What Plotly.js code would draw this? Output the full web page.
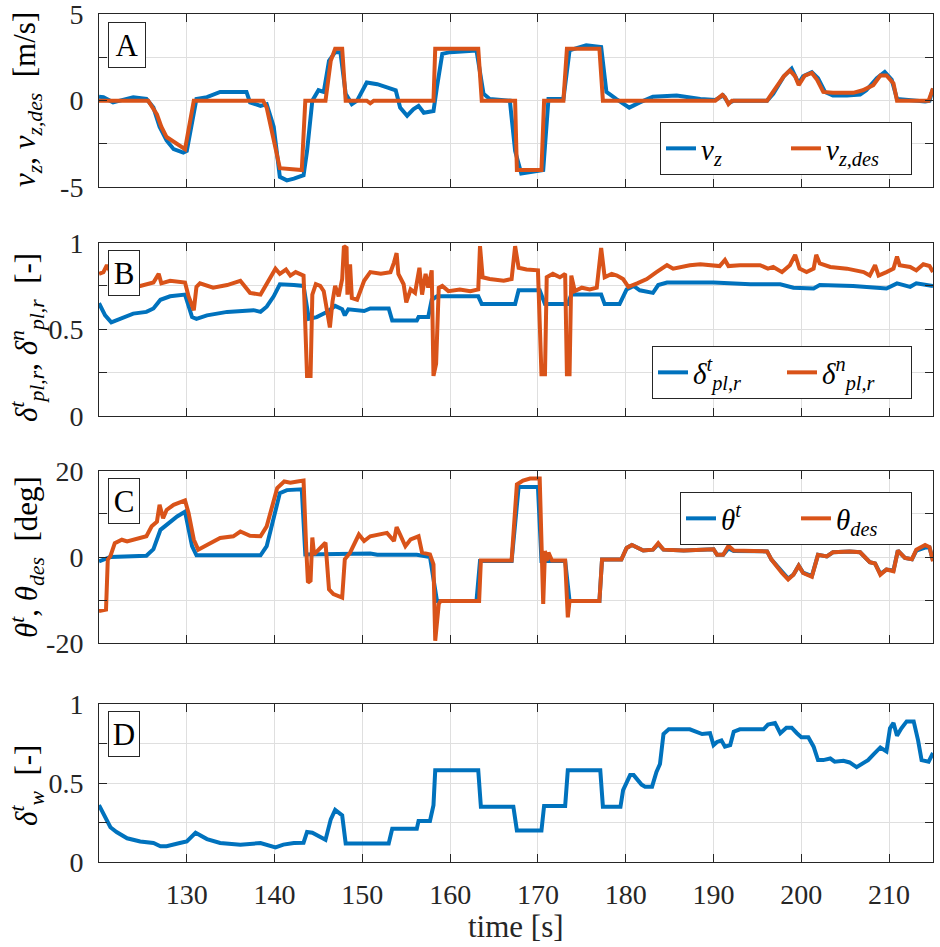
<!DOCTYPE html>
<html>
<head>
<meta charset="utf-8">
<script src="https://cdn.plot.ly/plotly-3.0.1.min.js"></script>
<style>html,body{margin:0;padding:0;background:#fff;}#plot{width:940px;height:947px;}
svg text, svg tspan { font-family: 'Liberation Serif', 'DejaVu Serif', serif !important; }</style>
</head>
<body>
<div id="plot"></div>
<script>
// ---------------- DATA ----------------
const xTickVals = [130, 140, 150, 160, 170, 180, 190, 200, 210];
const xTickText = ['130', '140', '150', '160', '170', '180', '190', '200', '210'];

// Panel A: v_z (measured) and v_z,des
const tVz = [120,120.5,121.6,122.4,123.9,125.4,126.2,126.9,127.7,128.5,129.6,130,130.6,131.1,132.3,133.8,135.3,136.8,137.2,138.4,139.1,139.9,140.6,141.4,142.2,143.3,143.7,144.3,145,145.6,146.2,146.9,147.5,148.1,148.8,149.4,150.5,151.7,152.8,153.8,154.3,155.1,155.8,156.4,157,158.1,158.5,159.1,160,163,163.8,164.5,166.8,167.4,168.1,170.6,171.2,172.9,173.6,175.5,177.2,177.8,178.9,180.4,181.6,183.1,185.8,188.5,190.2,191.1,191.7,192.3,196.1,196.8,198,198.9,199.7,200.2,201.2,201.9,202.7,203.6,205.2,206.7,207.4,208.6,209.5,210.3,210.9,212.8,214.1,214.6,215];
const vz  = [0.23,0.2,-0.1,0,0.2,0.1,-0.4,-1.5,-2.3,-2.8,-3.0,-2.9,-1.2,0.1,0.2,0.5,0.5,0.5,-0.1,-0.3,-0.2,-1.5,-4.4,-4.6,-4.5,-4.3,-2.9,0,0.6,0.5,2.3,2.8,2.8,0.4,-0.2,0,1.05,0.95,0.77,0.6,-0.4,-0.87,-0.5,-0.3,-0.7,-0.6,0.8,2.7,2.8,2.9,0.4,0.1,0,-2.9,-4.2,-4.0,0.1,0.1,2.9,3.2,3.1,0.5,0.1,-0.4,-0.1,0.23,0.3,0.1,0.04,0.3,-0.15,0,0,0.4,1.4,1.85,1.0,1.4,1.65,1.3,0.5,0.3,0.3,0.35,0.6,1.3,1.65,1.2,0.1,0,-0.05,0,0.7];

const tVzDes = [120,125.6,126.6,127.1,127.7,128.9,129.8,130.8,138.7,139.1,140.6,143.1,143.5,145.8,146.4,146.9,147.7,148.1,150.5,150.9,151.3,158.1,158.3,163.2,163.6,167.4,167.6,170.4,170.7,172.9,173.3,177,177.4,190.2,191,191.3,191.7,192.1,196.1,196.5,197.2,198,198.7,199.3,199.7,200.4,201.2,201.8,202.5,203.6,205.9,207,208.2,209,209.7,210.5,210.9,214.5,215];
const vzDes  = [0,0,-0.8,-1.5,-2.1,-2.5,-2.8,0,0,-0.4,-3.9,-4.0,0,0,2.3,3.0,3.0,0,0,-0.15,0,0,3.0,3.0,0,0,-4.0,-4.0,0,0,3.0,3.0,0,0,0.33,0.2,-0.2,0,0,0.3,0.8,1.4,1.75,1.4,0.9,1.45,1.6,1.2,0.5,0.45,0.45,0.6,0.9,1.45,1.45,1.0,0,0,0.7];

// Panel B: delta^t_pl,r and delta^n_pl,r
const tDt = [120,120.7,121.4,122.4,123.9,125.4,126.2,127,128.1,129.8,130.6,131.1,132.3,134.6,137.6,138.4,139.1,139.9,140.6,142.2,143.3,143.9,144.8,146,146.9,147.7,148,148.4,150.2,150.9,153,153.4,156.2,156.4,157.5,157.9,158.5,163.2,163.6,167.4,167.8,170.2,170.8,173.4,173.8,177.2,177.6,179.3,180.1,180.9,181.6,183.1,183.7,184.7,190,194.2,197.6,199.1,201.4,202.1,205.9,208.6,209.7,210.9,212.4,213.1,215];
const deltaT = [0.65,0.58,0.54,0.56,0.59,0.60,0.62,0.67,0.69,0.70,0.57,0.56,0.58,0.60,0.61,0.60,0.63,0.69,0.76,0.755,0.75,0.56,0.57,0.60,0.635,0.615,0.58,0.615,0.605,0.62,0.62,0.55,0.55,0.57,0.57,0.67,0.69,0.69,0.645,0.645,0.725,0.725,0.645,0.645,0.70,0.70,0.645,0.645,0.73,0.75,0.725,0.71,0.755,0.77,0.77,0.76,0.76,0.74,0.735,0.755,0.75,0.74,0.735,0.765,0.745,0.765,0.75];

const tDn = [120,120.5,120.9,121.3,121.6,123.2,124.7,126.2,126.8,127.1,128.1,129.8,130.2,130.8,131.1,131.5,133,134.6,136.1,137.2,138.4,139.1,140.1,140.6,141.3,141.8,142.4,143.3,143.5,143.7,144.1,144.3,144.7,145.2,145.6,146,146.3,146.6,146.9,147.3,147.7,147.9,148.2,148.3,148.6,148.8,149.4,150.2,150.9,152.1,153.2,153.6,153.9,154.1,154.7,155,155.5,156,156.5,156.8,157.2,157.5,157.9,158.1,158.4,158.7,159.1,159.8,161.1,162.3,163.2,163.4,163.7,164.5,166.1,167,167.4,167.8,168.7,170,170.4,170.8,171,171.7,172.5,173.1,173.3,173.6,173.8,174.2,175,175.9,176.7,177.2,177.6,178.4,179,179.7,180.3,181.3,182.4,183.5,184.7,185.4,186.2,187.3,188.5,190.7,191.3,191.7,193,195.3,196.2,196.8,197.8,198.7,199.3,199.8,200.6,201.4,201.7,202.1,203.3,205.2,207.1,207.8,208.4,208.8,209.7,210.5,210.9,211.2,212.4,213.1,213.9,214.6,215];
const deltaN = [0.82,0.83,0.87,0.83,0.77,0.74,0.75,0.77,0.82,0.765,0.78,0.77,0.69,0.61,0.745,0.765,0.74,0.755,0.78,0.71,0.70,0.765,0.85,0.82,0.845,0.81,0.83,0.81,0.44,0.23,0.23,0.70,0.76,0.75,0.72,0.585,0.51,0.66,0.75,0.69,0.79,0.98,0.97,0.70,0.875,0.68,0.67,0.78,0.83,0.82,0.83,0.885,0.94,0.82,0.76,0.655,0.73,0.71,0.855,0.70,0.82,0.74,0.84,0.23,0.30,0.74,0.75,0.72,0.73,0.72,0.73,0.98,0.80,0.79,0.78,0.79,0.98,0.855,0.845,0.84,0.24,0.24,0.80,0.82,0.80,0.82,0.24,0.24,0.81,0.72,0.74,0.73,0.74,0.97,0.80,0.82,0.81,0.79,0.745,0.765,0.79,0.83,0.87,0.85,0.86,0.87,0.875,0.865,0.90,0.865,0.87,0.87,0.85,0.86,0.83,0.87,0.93,0.85,0.83,0.85,0.93,0.88,0.86,0.85,0.83,0.81,0.87,0.81,0.83,0.85,0.92,0.87,0.86,0.84,0.875,0.865,0.83];

// Panel C: theta^t and theta_des
const tTheta = [120,120.5,121.3,125.4,126.2,127,127.7,128.9,129.8,130.6,131.1,138.4,139.1,139.9,140.6,141.4,143.1,143.5,148.6,150.9,151.7,156.2,157.7,158.5,163,163.4,167,167.8,170,170.4,173.1,173.6,177,177.3,179.5,180.1,180.7,182,183.1,183.7,184.3,186.6,190,190.4,191.1,191.7,192.3,196.1,196.6,197.8,198.5,199.1,199.7,200.2,201.2,201.9,202.9,203.6,205.5,206.7,207.8,208.4,209,209.7,210.5,211,211.8,212.6,213.1,214.1,214.6,215];
const thetaT = [-1.0,-0.6,0,0.3,1.8,6.3,7.5,9.4,10.5,2.5,0.4,0.4,2.5,9.4,14.8,15.5,15.7,0.6,0.6,0.8,0.5,0.5,0,-10.2,-10.2,-0.9,-0.9,16.2,16.2,-0.9,-0.9,-10.2,-10.2,-0.6,-0.6,2.1,2.8,1.5,1.7,3.0,1.7,1.5,1.8,0.5,0.5,2.0,1.4,1.3,-0.6,-3.5,-5.0,-4.1,-2.0,-3.6,-4.4,0.5,0.15,1.1,1.3,1.1,-1.2,-1.5,-3.9,-2.9,-3.1,1.5,-0.2,-0.5,1.5,2.2,2.2,-0.8];

const tThetaDes = [120,120.8,121,121.3,121.8,122.6,123.2,124.7,125.4,126,126.6,126.9,127.3,127.7,128.5,129.8,130.2,130.8,131.3,132.3,133.8,135.3,136.1,137.2,138.4,139.1,139.9,140.3,141.1,141.8,142.6,143.3,143.6,143.8,144.1,144.3,144.5,145,145.6,145.8,146.2,146.7,147.7,148,148.6,149.6,150.2,150.9,151.7,152.8,153.6,153.9,154.3,154.9,155.5,156.4,156.8,157.7,158.1,158.3,158.7,158.9,163.3,163.5,167,167.6,168.3,169.1,170.2,170.4,170.6,170.8,171,171.2,171.6,173.1,173.4,173.6,177,177.3,179.5,180.1,180.7,182,183.1,183.7,184.3,186.6,190,190.4,191.1,191.7,192.3,196.1,196.6,197.8,198.5,199.1,199.7,200.2,201.2,201.9,202.9,203.6,205.5,206.7,207.8,208.4,209,209.7,210.5,211,211.8,212.6,213.1,214.1,214.6,215];
const thetaDes = [-12.5,-12.2,-0.6,0.2,3.2,4.0,3.6,4.4,4.8,7.1,8.2,12.1,9.0,10.9,12.1,13.1,10.2,4.0,1.7,2.8,4.4,4.8,5.9,4.9,4.8,7.1,12.9,16,17.5,17.2,17.5,17.7,2.2,-5.9,-5.5,4.5,0.6,1.8,2.9,3.3,-7.5,-8.6,-9.4,-0.5,1,5.2,3.7,4.8,5.2,5.6,3.7,6.9,5.2,2.5,4.1,4.8,1,0.6,-1.7,-19.4,-10.9,-10.2,-10.2,-0.8,-0.8,16.8,17.7,18.2,18.2,-1.7,-10.9,1.4,-0.9,1,-0.8,-0.8,-14,-10.2,-10.2,-0.6,-0.6,2.1,2.8,1.5,1.7,3.2,1.7,1.5,1.8,0.5,0.5,2.6,1.5,1.3,-0.6,-3.7,-5.2,-4.1,-2,-3.7,-4.6,0.5,0.15,1.1,1.3,1.1,-1.2,-1.5,-4.1,-2.9,-3.3,1.5,-0.2,-0.5,1.7,2.8,2.3,-1];

// Panel D: delta^t_w
const tDw = [120,120.5,121.3,122,123.2,124.7,126.2,127,127.7,129.2,130,131,132.3,133.8,136.1,138.4,139.1,140.1,141,142.2,143.3,143.7,144.3,145,145.8,146.4,146.9,147.7,148.1,153,153.4,156.2,156.4,157.7,158.1,158.3,163.2,163.5,167.2,167.6,170.4,170.7,173.1,173.4,177.1,177.4,179.4,179.7,180.5,180.9,181.8,182.2,183,183.5,183.9,184.3,184.9,187.3,188.1,188.7,189.6,190,190.4,190.9,191.3,191.9,192.3,193,195.7,196.2,197,197.6,198.3,198.9,199.5,200,200.8,201.4,201.9,202.5,203.3,203.8,204.8,205.5,206.3,207.1,207.6,208.2,209,209.7,210.1,210.5,210.9,211.4,212,212.8,213.3,213.7,214.5,215];
const deltaW = [0.36,0.31,0.22,0.19,0.15,0.13,0.12,0.10,0.10,0.12,0.13,0.185,0.145,0.12,0.11,0.12,0.11,0.093,0.11,0.12,0.122,0.19,0.185,0.163,0.14,0.27,0.33,0.295,0.117,0.117,0.21,0.21,0.26,0.26,0.36,0.58,0.58,0.35,0.35,0.20,0.20,0.355,0.355,0.58,0.58,0.35,0.35,0.455,0.55,0.55,0.49,0.477,0.477,0.57,0.62,0.81,0.84,0.84,0.82,0.81,0.815,0.74,0.76,0.77,0.73,0.74,0.825,0.84,0.84,0.87,0.88,0.815,0.85,0.85,0.815,0.79,0.79,0.73,0.645,0.645,0.655,0.635,0.64,0.63,0.60,0.625,0.645,0.68,0.725,0.70,0.846,0.88,0.80,0.846,0.89,0.89,0.77,0.645,0.635,0.69];

// y-axis tick labels (major) and grid-only levels (minor)
const yTicksA = [-5, 0, 5], yMinorA = [-2.5, 2.5];
const yTicksB = [0, 0.5, 1], yMinorB = [0.25, 0.75];
const yTicksC = [-20, 0, 20], yMinorC = [-10, 10];
const yTicksD = [0, 0.5, 1], yMinorD = [0.25, 0.75];

// ---------------- STYLE ----------------
const BLUE = '#0072BD', ORANGE = '#D95319';
const AX = '#262626', GRID = '#dfdfdf';
const FONT = 'Liberation Serif';
const W = 940, H = 947;
const px = v => v / W;
const py = v => 1 - v / H;

const xDom = [px(99), px(933)];
const yDoms = {
  A: [py(187.3), py(14)],
  B: [py(415.7), py(242.7)],
  C: [py(643.3), py(470.7)],
  D: [py(862), py(704)]
};

function line(x, y, color, name, xa, ya, legend, show) {
  return { x: x, y: y, type: 'scatter', mode: 'lines', name: name,
    line: { color: color, width: 4 }, xaxis: xa, yaxis: ya,
    legend: legend, showlegend: show, hoverinfo: 'skip' };
}

const data = [
  line(tVz, vz, BLUE, '<i>v</i><sub><i>z</i></sub>', 'x', 'y', 'legend', true),
  line(tVzDes, vzDes, ORANGE, '<i>v</i><sub><i>z,des</i></sub>', 'x', 'y', 'legend', true),
  line(tDt, deltaT, BLUE, '<i>δ</i><sup><i>t</i></sup><sub><i>pl,r</i></sub>', 'x2', 'y2', 'legend2', true),
  line(tDn, deltaN, ORANGE, '<i>δ</i><sup><i>n</i></sup><sub><i>pl,r</i></sub>', 'x2', 'y2', 'legend2', true),
  line(tTheta, thetaT, BLUE, '<i>θ</i><sup><i>t</i></sup>', 'x3', 'y3', 'legend3', true),
  line(tThetaDes, thetaDes, ORANGE, '<i>θ</i><sub><i>des</i></sub>', 'x3', 'y3', 'legend3', true),
  line(tDw, deltaW, BLUE, '<i>δ</i><sup><i>t</i></sup><sub><i>w</i></sub>', 'x4', 'y4', 'legend', false)
];

function xaxis(anchor, labels) {
  return { domain: xDom, range: [120, 215], anchor: anchor,
    tickmode: 'array', tickvals: xTickVals, ticktext: xTickText,
    showticklabels: labels, ticks: 'inside', ticklen: 8, tickcolor: AX, tickwidth: 1,
    showline: true, mirror: 'ticks', linecolor: AX, linewidth: 1,
    showgrid: true, gridcolor: GRID, gridwidth: 1, zeroline: false,
    ticklabeloverflow: 'allow',
    tickfont: { family: FONT, size: 28, color: AX }, ticklabelstandoff: 7 };
}
function yaxis(anchor, dom, range, vals, minorVals) {
  return { domain: dom, range: range, anchor: anchor,
    tickmode: 'array', tickvals: vals, ticktext: vals.map(String),
    ticks: 'inside', ticklen: 8, tickcolor: AX, tickwidth: 1,
    minor: { tickmode: 'array', tickvals: minorVals, ticks: 'inside', ticklen: 8,
      tickcolor: AX, tickwidth: 1, showgrid: true, gridcolor: GRID, gridwidth: 1 },
    showline: true, mirror: 'ticks', linecolor: AX, linewidth: 1,
    showgrid: true, gridcolor: GRID, gridwidth: 1, zeroline: false,
    ticklabeloverflow: 'allow',
    tickfont: { family: FONT, size: 28, color: AX }, ticklabelstandoff: 9 };
}

function legendBox(rightPx, topPx, ew) {
  return { x: px(rightPx), y: py(topPx), xanchor: 'right', yanchor: 'top',
    orientation: 'h', bgcolor: '#ffffff', bordercolor: AX, borderwidth: 1,
    font: { family: FONT, size: 29, color: '#000' }, itemwidth: 30,
    entrywidth: ew, entrywidthmode: 'pixels', tracegroupgap: 0 };
}

function panelLabel(letter, topPx, w) {
  return { text: letter, x: px(108), y: py(topPx), xref: 'paper', yref: 'paper',
    xanchor: 'left', yanchor: 'top', showarrow: false,
    font: { family: FONT, size: 31, color: '#000' },
    bgcolor: '#ffffff', bordercolor: AX, borderwidth: 1, borderpad: 3,
    width: w, height: 38 };
}
function yTitle(text, centerPx) {
  return { text: text, x: px(27), y: py(centerPx), xref: 'paper', yref: 'paper',
    xanchor: 'center', yanchor: 'middle', textangle: -90, showarrow: false,
    font: { family: FONT, size: 31, color: '#000' } };
}

const layout = {
  width: W, height: H,
  margin: { l: 0, r: 0, t: 0, b: 0 },
  paper_bgcolor: '#ffffff', plot_bgcolor: '#ffffff',
  font: { family: FONT, size: 28, color: AX },
  showlegend: true,
  xaxis: xaxis('y', false),
  xaxis2: xaxis('y2', false),
  xaxis3: xaxis('y3', false),
  xaxis4: xaxis('y4', true),
  yaxis: yaxis('x', yDoms.A, [-5, 5], yTicksA, yMinorA),
  yaxis2: yaxis('x2', yDoms.B, [0, 1], yTicksB, yMinorB),
  yaxis3: yaxis('x3', yDoms.C, [-20, 20], yTicksC, yMinorC),
  yaxis4: yaxis('x4', yDoms.D, [0, 1], yTicksD, yMinorD),
  legend: legendBox(912, 122, 80),
  legend2: legendBox(912, 346, 84),
  legend3: legendBox(912, 492, 70),
  annotations: [
    panelLabel('A', 22, 30),
    panelLabel('B', 250, 24),
    panelLabel('C', 478, 24),
    panelLabel('D', 711, 24),
    yTitle('<i>v</i><sub><i>z</i></sub>, <i>v</i><sub><i>z,des</i></sub>  [m/s]', 100),
    yTitle('<i>δ</i><sup><i>t</i></sup><sub><i>pl,r</i></sub>, <i>δ</i><sup><i>n</i></sup><sub><i>pl,r</i></sub>  [-]', 338),
    yTitle('<i>θ</i><sup><i>t</i></sup>, <i>θ</i><sub><i>des</i></sub>  [deg]', 557),
    yTitle('<i>δ</i><sup><i>t</i></sup><sub><i>w</i></sub>  [-]', 786),
    { text: 'time [s]', x: px(516), y: py(926), xref: 'paper', yref: 'paper',
      xanchor: 'center', yanchor: 'middle', showarrow: false,
      font: { family: FONT, size: 31, color: AX } }
  ]
};

Plotly.newPlot('plot', data, layout, { displayModeBar: false });
</script>
</body>
</html>
